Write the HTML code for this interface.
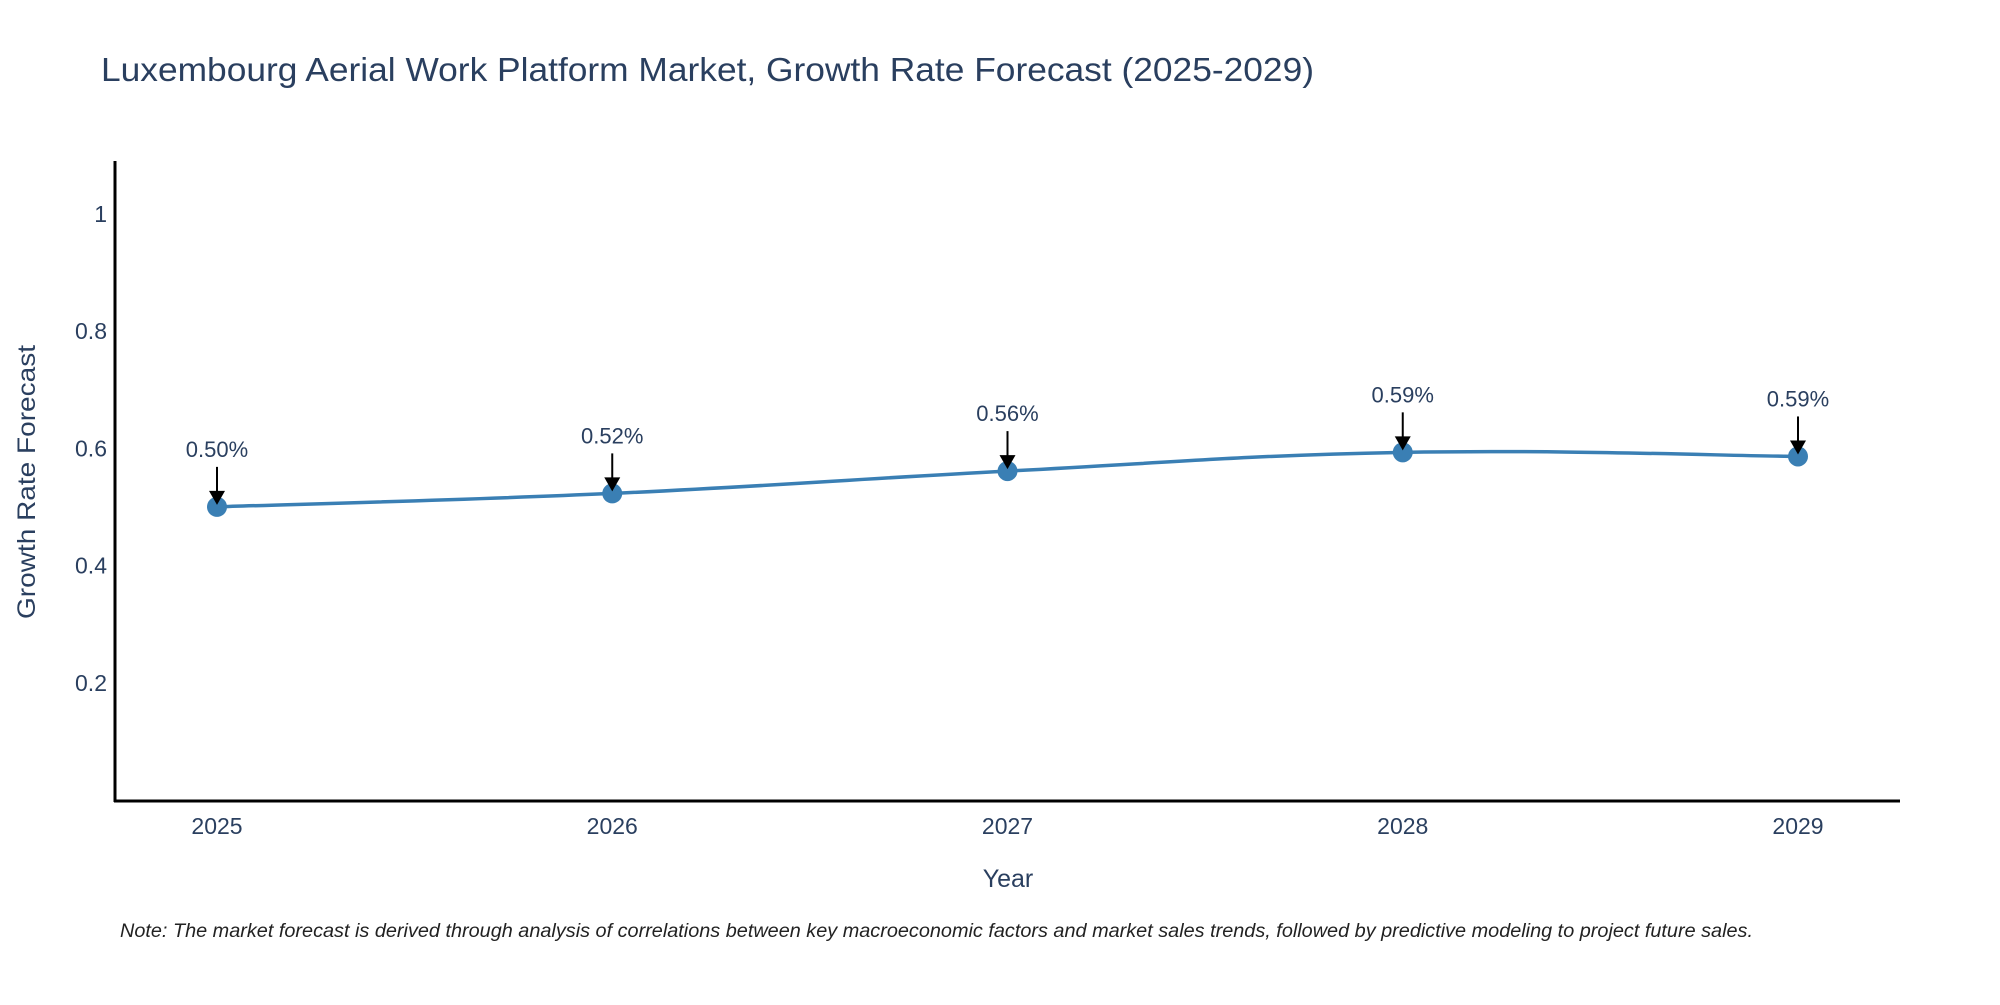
<!DOCTYPE html>
<html><head><meta charset="utf-8"><style>
html,body{margin:0;padding:0;background:#fff;}
svg text{font-family:"Liberation Sans",sans-serif;}
</style></head><body>
<svg id="chart" width="2000" height="1000" xmlns="http://www.w3.org/2000/svg">
<text x="101" y="81" font-size="33" fill="#2a3f5f" textLength="1213" lengthAdjust="spacingAndGlyphs">Luxembourg Aerial Work Platform Market, Growth Rate Forecast (2025-2029)</text>
<g id="yticks"></g>
<g id="xticks"></g>
<line x1="115" y1="161" x2="115" y2="802" stroke="#000" stroke-width="3"/>
<line x1="114" y1="801" x2="1900" y2="801" stroke="#000" stroke-width="3"/>
<path id="series" fill="none" stroke="#3a7fb4" stroke-width="3.5"/>
<g id="marks"></g>
<text x="1008" y="887" font-size="25" fill="#2a3f5f" text-anchor="middle">Year</text>
<text transform="translate(35,482) rotate(-90)" font-size="25" fill="#2a3f5f" text-anchor="middle" textLength="274" lengthAdjust="spacingAndGlyphs">Growth Rate Forecast</text>
<text x="120" y="937" font-size="19" font-style="italic" fill="#222" textLength="1633" lengthAdjust="spacingAndGlyphs">Note: The market forecast is derived through analysis of correlations between key macroeconomic factors and market sales trends, followed by predictive modeling to project future sales.</text>
</svg>
<script>
const years = ["2025","2026","2027","2028","2029"];
const values = [0.50, 0.523, 0.561, 0.593, 0.586];
const labels = ["0.50%","0.52%","0.56%","0.59%","0.59%"];
const yTicks = [0.2, 0.4, 0.6, 0.8, 1];
const yTickLabels = ["0.2","0.4","0.6","0.8","1"];
const NS = "http://www.w3.org/2000/svg";
const xs = i => 217 + i * (1798 - 217) / 4;
const ys = v => 800 - v * 586.25;
function mk(tag, attrs, parent) {
  const e = document.createElementNS(NS, tag);
  for (const k in attrs) e.setAttribute(k, attrs[k]);
  parent.appendChild(e);
  return e;
}
const yg = document.getElementById('yticks');
yTicks.forEach((v, i) => {
  const t = mk('text', {x: 107, y: ys(v) + 8, 'font-size': 23, fill: '#2a3f5f', 'text-anchor': 'end'}, yg);
  
  
  t.textContent = yTickLabels[i];
});
const xg = document.getElementById('xticks');
years.forEach((y, i) => {
  const t = mk('text', {x: xs(i), y: 834, 'font-size': 23, fill: '#2a3f5f', 'text-anchor': 'middle'}, xg);
  
  
  t.textContent = y;
});
// Catmull-Rom spline
const pts = values.map((v, i) => [xs(i), ys(v)]);
let d = `M${pts[0][0]},${pts[0][1]}`;
const s = 0.6 / 3;
for (let i = 0; i < pts.length - 1; i++) {
  const p0 = pts[Math.max(0, i - 1)], p1 = pts[i], p2 = pts[i + 1], p3 = pts[Math.min(pts.length - 1, i + 2)];
  const c1 = [p1[0] + (p2[0] - p0[0]) * s, p1[1] + (p2[1] - p0[1]) * s];
  const c2 = [p2[0] - (p3[0] - p1[0]) * s, p2[1] - (p3[1] - p1[1]) * s];
  d += ` C${c1[0]},${c1[1]} ${c2[0]},${c2[1]} ${p2[0]},${p2[1]}`;
}
document.getElementById('series').setAttribute('d', d);
const mg = document.getElementById('marks');
values.forEach((v, i) => {
  const x = xs(i), y = ys(v);
  const c = mk('circle', {cx: x, cy: y, r: 10, fill: '#3a7fb4'}, mg);
  
  
  const l = mk('line', {x1: x, y1: y - 40, x2: x, y2: y - 12, stroke: '#000', 'stroke-width': 2}, mg);
  
  
  const h = mk('polygon', {points: `${x-8},${y-16} ${x+8},${y-16} ${x},${y-2}`, fill: '#000'}, mg);
  
  
  const t = mk('text', {x: x, y: y - 50, 'font-size': 22, fill: '#2a3f5f', 'text-anchor': 'middle'}, mg);
  
  
  t.textContent = labels[i];
});
</script>
</body></html>
